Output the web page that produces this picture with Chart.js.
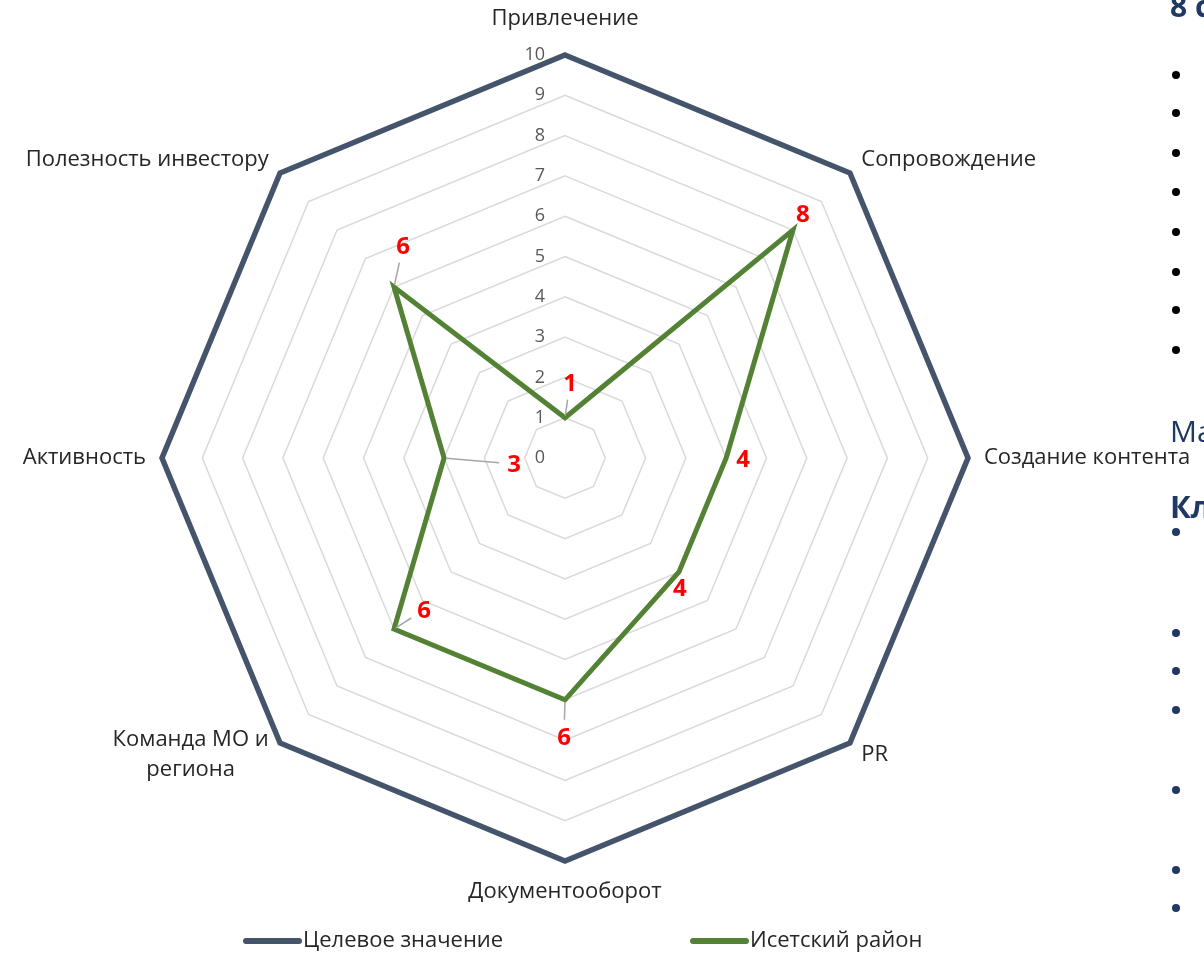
<!DOCTYPE html>
<html lang="ru">
<head>
<meta charset="utf-8">
<title>Радар</title>
<script src="https://cdn.jsdelivr.net/npm/chart.js@4.4.1/dist/chart.umd.min.js"></script>
<style>
    html, body { margin: 0; padding: 0; background: #fff; }
    body { width: 1204px; height: 954px; overflow: hidden; position: relative; font-family: "Open Sans", sans-serif; }
    #radarChart { position: absolute; left: 0; top: 0; }
    .side { position: absolute; left: 1170px; color: #1f3864; white-space: nowrap; line-height: 1; }
    .dot { position: absolute; left: 1172px; width: 8px; height: 8px; border-radius: 50%; background: #000; }
    .dot.navy { background: #1f3864; }
</style>
</head>
<body>
<canvas id="radarChart" width="1204" height="954"></canvas>

<!-- обрезанный текст соседнего блока слайда -->
<div class="side" style="top:-9px; font-size:30px; font-weight:700;">8 с</div>
<div class="side" style="top:416px; font-size:30px;">Ма</div>
<div class="side" style="top:491px; font-size:31px; font-weight:700;">Кл</div>
<div id="dots"></div>

<script>
// Оси (по часовой стрелке от верха)
const categories = [
    'Привлечение',
    'Сопровождение',
    'Создание контента',
    'PR',
    'Документооборот',
    ['Команда МО и', 'региона'],
    'Активность',
    'Полезность инвестору'
];

// Значения рядов
const targetValues = [10, 10, 10, 10, 10, 10, 10, 10];
const isetValues = [1, 8, 4, 4, 6, 6, 3, 6];

// Подписи шкалы
const tickLabels = [0, 1, 2, 3, 4, 5, 6, 7, 8, 9, 10];

const seriesNames = ['Целевое значение', 'Исетский район'];

// Смещения подписей данных (dx, dy) и выноски
const labelOffsets = [[5, -35], [10, -16], [17, 1], [1, 16], [-1, 37], [30, -19], [70, 6], [9, -41]];
const labelLeaders = [true, false, false, false, true, true, true, true];

const FONT = '"Open Sans", "Noto Sans", sans-serif';
const NAVY = '#44546a';
const GREEN = '#548235';

// маркеры справа
const dotsTop = [75, 113, 153, 192, 232, 272, 310, 350];
const dotsBottom = [532, 633, 671, 710, 790, 870, 908];
const dotsBox = document.getElementById('dots');
dotsTop.forEach(y => {
    const d = document.createElement('div');
    d.className = 'dot';
    d.style.top = (y - 4) + 'px';
    dotsBox.appendChild(d);
});
dotsBottom.forEach(y => {
    const d = document.createElement('div');
    d.className = 'dot navy';
    d.style.top = (y - 4) + 'px';
    dotsBox.appendChild(d);
});

const overlayPlugin = {
    id: 'overlay',
    afterDatasetsDraw(chart) {
        const ctx = chart.ctx;
        const scale = chart.scales.r;
        const cx = scale.xCenter, cy = scale.yCenter;
        ctx.save();

        // подписи шкалы
        ctx.font = '18px ' + FONT;
        ctx.fillStyle = '#595959';
        ctx.textAlign = 'right';
        ctx.textBaseline = 'middle';
        tickLabels.forEach(v => {
            const d = scale.getDistanceFromCenterForValue(v);
            ctx.fillText(String(v), cx - 20, cy - d);
        });

        // подписи осей
        ctx.font = '22px ' + FONT;
        ctx.fillStyle = '#262626';
        categories.forEach((lbl, i) => {
            const p = scale.getPointPosition(i, scale.drawingArea + 16);
            const dx = p.x - cx, dy = p.y - cy;
            const lines = Array.isArray(lbl) ? lbl : [lbl];
            const lh = 30;
            const maxW = Math.max(...lines.map(l => ctx.measureText(l).width));
            let x = p.x, y = p.y;
            if (Math.abs(dx) < 1) {
                y += dy < 0 ? -20 : 15;
            } else if (dy < -1) {
                y -= 2;
            }
            ctx.textBaseline = 'middle';
            ctx.textAlign = 'center';
            let centerX;
            if (Math.abs(dx) < 1) centerX = x;
            else if (dx > 0) centerX = x + maxW / 2;
            else centerX = x - maxW / 2;
            const startY = y - (lines.length - 1) * lh / 2;
            lines.forEach((l, k) => ctx.fillText(l, centerX, startY + k * lh));
        });

        // подписи данных с выносками
        const meta = chart.getDatasetMeta(1);
        ctx.font = 'bold 24px ' + FONT;
        ctx.fillStyle = '#ff0000';
        ctx.textAlign = 'center';
        ctx.textBaseline = 'middle';
        meta.data.forEach((pt, i) => {
            const [ox, oy] = labelOffsets[i];
            const lx = pt.x + ox, ly = pt.y + oy;
            if (labelLeaders[i]) {
                const len = Math.hypot(ox, oy);
                const cut = Math.min(len - 3, Math.abs(ox) > Math.abs(oy) ? 15 : 17);
                ctx.strokeStyle = '#a6a6a6';
                ctx.lineWidth = 1.5;
                ctx.beginPath();
                ctx.moveTo(pt.x + ox * 2 / len, pt.y + oy * 2 / len);
                ctx.lineTo(lx - ox * cut / len, ly - oy * cut / len);
                ctx.stroke();
            }
            ctx.fillText(String(isetValues[i]), lx, ly + 1);
        });

        // легенда
        const legend = [
            { x: 243, color: NAVY, text: seriesNames[0] },
            { x: 690, color: GREEN, text: seriesNames[1] }
        ];
        ctx.font = '22px ' + FONT;
        ctx.fillStyle = '#262626';
        ctx.textAlign = 'left';
        legend.forEach(item => {
            ctx.strokeStyle = item.color;
            ctx.lineWidth = 6;
            ctx.lineCap = 'round';
            ctx.beginPath();
            ctx.moveTo(item.x + 3, 941);
            ctx.lineTo(item.x + 56, 941);
            ctx.stroke();
            ctx.fillText(item.text, item.x + 60, 941);
        });
        ctx.restore();
    }
};

const ctx = document.getElementById('radarChart').getContext('2d');
window.radarInstance = new Chart(ctx, {
    type: 'radar',
    data: {
        labels: categories,
        datasets: [{
            label: seriesNames[0],
            data: targetValues,
            borderColor: NAVY,
            backgroundColor: 'transparent',
            borderWidth: 5.5,
            borderJoinStyle: 'miter',
            pointRadius: 0,
            fill: false,
            order: 2
        }, {
            label: seriesNames[1],
            data: isetValues,
            borderColor: GREEN,
            backgroundColor: 'transparent',
            borderWidth: 5,
            borderJoinStyle: 'miter',
            pointRadius: 0,
            fill: false,
            order: 1
        }]
    },
    options: {
        responsive: false,
        animation: false,
        layout: { padding: { left: 162, right: 236, top: 55, bottom: 93 } },
        plugins: {
            legend: { display: false },
            tooltip: { enabled: false }
        },
        scales: {
            r: {
                min: 0,
                max: 10,
                ticks: { stepSize: 1, display: false },
                grid: { color: '#d9d9d9', lineWidth: 1.5 },
                angleLines: { display: false },
                pointLabels: { display: false }
            }
        }
    },
    plugins: [overlayPlugin]
});
</script>
</body>
</html>
